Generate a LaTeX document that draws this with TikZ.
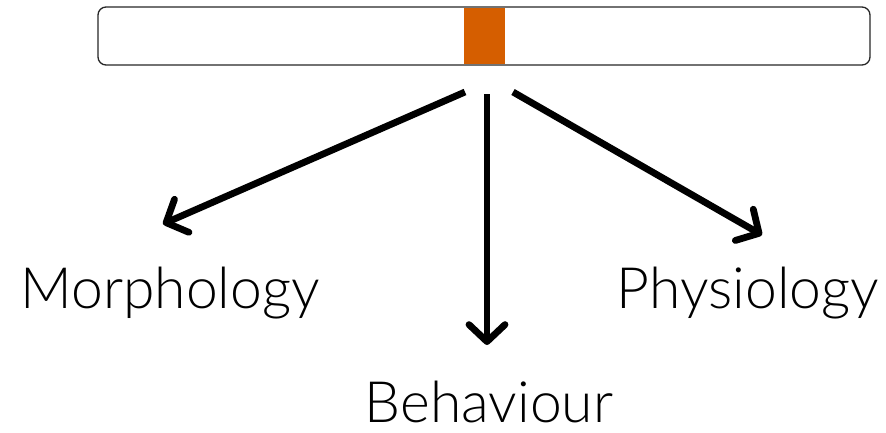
\documentclass[tikz,border=0pt]{standalone}
\usepackage{fontspec}
\setmainfont{Lato Light}
\usetikzlibrary{arrows.meta}
\definecolor{marker}{HTML}{D55E00}
\tikzset{
  trait/.style={font=\fontsize{57}{60}\selectfont, inner sep=0pt, anchor=base},
  link/.style={line width=6.8pt, -{Straight Barb[length=17pt, width=36pt, round, line width=6.8pt]}},
}
\begin{document}
\begin{tikzpicture}[x=1pt, y=-1pt]
\useasboundingbox (0,0) rectangle (886,432);
% chromosome bar with the highlighted locus
\node[draw=black!85, line width=1.3pt, rounded corners=8pt, minimum width=772pt, minimum height=58pt, inner sep=0pt] (bar) at (484,36) {};
\fill[marker] (464,7.7) rectangle (505,64.3);
% start points just under the locus
\coordinate (sl) at (465,92);
\coordinate (sm) at (487,94);
\coordinate (sr) at (513,92);
\coordinate (tl) at (163,224);
\coordinate (tm) at (487,345);
\coordinate (tr) at (762,235);
% trait labels
\node[trait] (morph) at (170,308) {Morphology};
\node[trait, text depth=0pt] (beh) at (489,422) {Behaviour};
\node[trait] (phys) at (748,308) {Physiology};
% effects of the locus
\draw[link] (sl) -- (tl);
\draw[link] (sm) -- (tm);
\draw[link] (sr) -- (tr);
\end{tikzpicture}
\end{document}
